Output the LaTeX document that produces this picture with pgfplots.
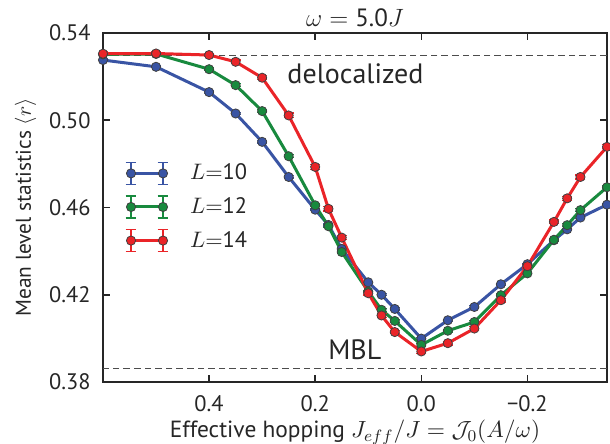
\RequirePackage{fix-cm}
\documentclass[border=0pt]{standalone}
\usepackage{fontspec}
\setmainfont{PT Sans}
\usepackage{pgfplots}
\pgfplotsset{compat=1.18}
\usepackage{pgfplotstable}

\definecolor{cblue}{RGB}{57,84,164}
\definecolor{cgreen}{RGB}{24,138,62}
\definecolor{cred}{RGB}{234,36,40}
\definecolor{txt}{RGB}{38,38,38}
\newcommand\fs{\fontsize{11.2}{13.4}\selectfont}

\pgfplotstableread{
x y e
0.6 0.5276 0.0005
0.5 0.5245 0.0005
0.4 0.5129 0.0005
0.35 0.5031 0.0005
0.3 0.4901 0.0005
0.25 0.4740 0.0005
0.2 0.4590 0.0005
0.175 0.4520 0.0005
0.15 0.4410 0.0005
0.1 0.4257 0.0005
0.075 0.4200 0.0005
0.05 0.4135 0.0005
0 0.3999 0.0005
-0.05 0.4083 0.0005
-0.1 0.4144 0.0005
-0.15 0.4248 0.0005
-0.2 0.4340 0.0005
-0.25 0.4450 0.0005
-0.275 0.4500 0.0005
-0.3 0.4554 0.0005
-0.35 0.4613 0.0005
}\tabA
\pgfplotstableread{
x y e
0.6 0.5302 0.0006
0.5 0.5304 0.0006
0.4 0.5234 0.0006
0.35 0.5161 0.0006
0.3 0.5042 0.0006
0.25 0.4835 0.0007
0.2 0.4610 0.0007
0.175 0.4514 0.0007
0.15 0.4396 0.0007
0.1 0.4215 0.0006
0.075 0.4131 0.0006
0.05 0.4080 0.0006
0 0.3970 0.0006
-0.05 0.4035 0.0006
-0.1 0.4075 0.0006
-0.15 0.4198 0.0006
-0.2 0.4298 0.0006
-0.25 0.4452 0.0006
-0.275 0.4519 0.0006
-0.3 0.4588 0.0006
-0.35 0.4693 0.0006
}\tabB
\pgfplotstableread{
x y e
0.6 0.5305 0.0008
0.5 0.5306 0.0008
0.4 0.5299 0.0008
0.35 0.5268 0.0008
0.3 0.5195 0.0009
0.25 0.5022 0.0011
0.2 0.4786 0.0011
0.175 0.4594 0.0010
0.15 0.4462 0.0010
0.1 0.4207 0.0008
0.075 0.4105 0.0008
0.05 0.4029 0.0008
0 0.3940 0.0008
-0.05 0.3978 0.0008
-0.1 0.4045 0.0008
-0.15 0.4175 0.0008
-0.2 0.4331 0.0008
-0.25 0.4534 0.0009
-0.275 0.4642 0.0009
-0.3 0.4740 0.0009
-0.35 0.4878 0.0009
}\tabC

\pgfplotsset{
  legend image code/.code={
    \draw[#1, mark=none, line width=0.6pt]
      (0pt,-5.5pt) -- (0pt,5.5pt) (-2.7pt,-5.5pt) -- (2.7pt,-5.5pt) (-2.7pt,5.5pt) -- (2.7pt,5.5pt)
      (16pt,-5.5pt) -- (16pt,5.5pt) (13.3pt,-5.5pt) -- (18.7pt,-5.5pt) (13.3pt,5.5pt) -- (18.7pt,5.5pt);
    \draw[#1, mark repeat=1] plot coordinates {(0pt,0pt) (16pt,0pt)};
  },
  series/.style={#1, line width=1.5pt, mark=*, mark size=2.3pt,
    mark options={fill=#1, draw=black!75, line width=0.4pt},
    error bars/.cd, y dir=both, y explicit,
    error bar style={line width=0.6pt, #1},
    error mark options={rotate=90, mark size=2.5pt, line width=0.6pt, #1}},
}

\begin{document}
\begin{tikzpicture}
\begin{axis}[name=ax,
  width=252pt, height=174.5pt, scale only axis,
  clip mode=global,
  xmin=-0.35, xmax=0.6, x dir=reverse, ymin=0.38, ymax=0.54,
  xtick={0.4,0.2,0,-0.2}, xticklabels={0.4,0.2,0.0,−0.2},
  ytick={0.38,0.42,0.46,0.50,0.54}, yticklabels={0.38,0.42,0.46,0.50,0.54},
  tick align=inside, major tick length=3.3pt, tick pos=both,
  axis line style={line width=1pt, draw=txt},
  every tick/.style={draw=txt, line width=0.8pt},
  xticklabel style={anchor=base, yshift=-15pt, font=\fs, text=txt, inner sep=0pt},
  yticklabel style={anchor=east, xshift=-6pt, font=\fs, text=txt, inner sep=0pt},
  xlabel={Effective hopping $J_{eff}/J=\mathcal{J}_0(A/\omega)$},
  xlabel style={at={(axis description cs:0.5,-0.1593)}, anchor=base, font=\fontsize{11.7}{14}\selectfont, text=txt, inner sep=0pt},
  ylabel={Mean level statistics $\langle r\rangle$},
  ylabel style={at={(axis description cs:-0.1429,0.5)}, anchor=base, font=\fontsize{10.7}{13}\selectfont, text=txt, inner sep=0pt},
  title={$\omega=\mbox{5.0}J$},
  every axis title/.style={at={(axis description cs:0.5,1)}, anchor=base, yshift=3pt, font=\fontsize{12.5}{14}\selectfont, text=txt, inner sep=0pt},
  legend style={draw=none, fill=none, at={(axis description cs:0.0437,0.631)}, anchor=north west,
    inner sep=0pt, outer sep=0pt, row sep=5.2pt, column sep=10.5pt, font=\fs, text=txt,
    nodes={inner sep=0pt}},
  legend cell align=left,
]
\addplot[forget plot, draw=black!70, line width=0.5pt, dash pattern=on 3.3pt off 2pt] coordinates {(-0.35,0.5299) (0.6,0.5299)};
\addplot[forget plot, draw=black!70, line width=0.5pt, dash pattern=on 3.3pt off 2pt] coordinates {(-0.35,0.386) (0.6,0.386)};
\addplot[series=cblue] table[x=x, y=y, y error=e] {\tabA};
\addlegendentry{$L{=}\mbox{10}$}
\addplot[series=cgreen] table[x=x, y=y, y error=e] {\tabB};
\addlegendentry{$L{=}\mbox{12}$}
\addplot[series=cred] table[x=x, y=y, y error=e] {\tabC};
\addlegendentry{$L{=}\mbox{14}$}
\node[anchor=base west, font=\fontsize{14}{16}\selectfont, text=txt, inner sep=0pt] at (axis cs:0.253,0.5169) {delocalized};
\node[anchor=base west, font=\fontsize{14}{16}\selectfont, text=txt, inner sep=0pt] at (axis cs:0.176,0.3903) {MBL};
\end{axis}
\pgfresetboundingbox
\path[use as bounding box] ([shift={(-51.5pt,-30.65pt)}]ax.south west) rectangle ([shift={(1.5pt,16.5pt)}]ax.north east);
\end{tikzpicture}
\end{document}
